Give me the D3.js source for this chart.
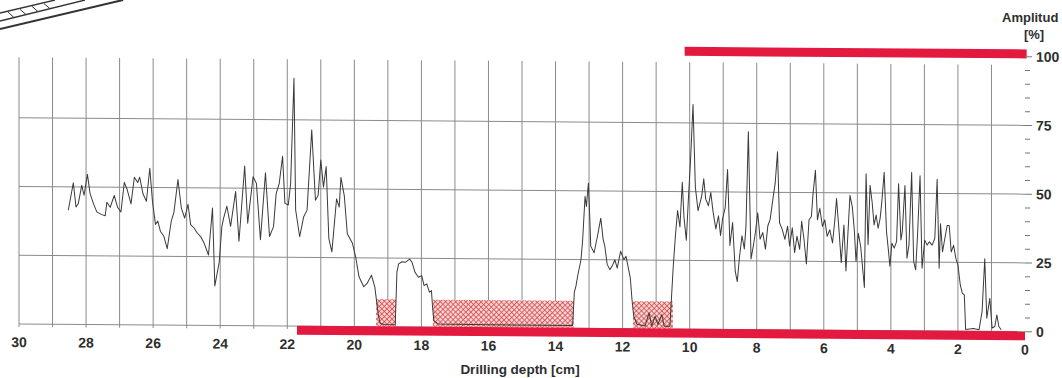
<!DOCTYPE html>
<html>
<head>
<meta charset="utf-8">
<script src="https://cdn.jsdelivr.net/npm/d3@7"></script>
<style>
  body { margin: 0; background: #fff; }
  svg { display: block; font-family: "Liberation Sans", Arial, sans-serif; }
</style>
</head>
<body>
<div id="chart"></div>
<script>
// profile: drilling depth [cm] and amplitude [%]
var depth = [
  28.53,28.38,28.30,28.23,28.13,28.06,27.96,27.88,27.78,27.68,27.53,27.43,27.38,27.28,27.16,27.06,26.96,26.86,26.78,26.66,
  26.56,26.46,26.40,26.30,26.20,26.10,26.02,25.93,25.86,25.78,25.68,25.58,25.46,25.38,25.26,25.16,25.06,24.96,24.88,24.78,
  24.68,24.58,24.48,24.35,24.23,24.16,24.03,23.95,23.90,
  23.80,23.69,23.54,23.44,23.27,23.18,23.02,22.92,22.80,22.65,22.53,22.41,22.33,22.24,22.14,22.07,21.97,21.90,21.80,21.75,
  21.63,21.51,21.41,21.27,21.16,21.08,21.00,20.92,20.84,20.76,20.67,20.53,20.45,20.40,20.30,20.21,20.06,19.96,19.86,19.72,
  19.62,19.49,19.39,19.29,19.23,
  19.10,18.78,18.73,18.68,18.58,18.48,18.35,18.28,18.19,18.09,17.99,17.92,17.84,17.76,17.70,17.67,17.63,17.50,16.00,13.52,
  13.49,13.44,13.39,13.34,13.24,13.19,13.12,13.08,13.02,12.98,12.95,12.85,12.75,12.65,12.58,12.53,12.46,12.38,12.31,12.23,
  12.16,12.06,11.96,11.90,11.84,11.77,11.72,11.67,11.57,11.33,11.21,11.13,11.03,10.95,10.83,10.76,10.59,10.49,10.42,10.36,
  10.29,10.22,10.17,10.10,10.03,9.97,9.90,9.83,9.75,
  9.64,9.58,9.52,9.44,9.37,9.30,9.22,9.14,9.08,9.02,8.94,8.87,8.80,8.72,8.64,8.58,8.52,8.44,8.37,8.32,
  8.25,8.17,8.10,8.04,7.97,7.90,7.82,7.74,7.67,7.60,7.52,7.45,7.38,7.32,7.24,7.16,7.08,7.02,6.94,6.87,
  6.80,6.72,6.66,6.59,6.52,6.44,6.37,6.32,6.25,6.19,6.12,6.04,5.97,5.90,5.82,5.74,5.67,5.62,5.54,5.48,
  5.40,5.34,5.28,5.22,5.15,5.09,5.04,4.97,4.90,
  4.79,4.74,4.68,4.62,4.56,4.50,4.44,4.38,4.32,4.27,4.20,4.13,4.07,4.03,3.97,3.90,3.83,3.77,3.70,3.66,
  3.58,3.52,3.46,3.38,3.32,3.26,3.20,3.13,3.07,2.99,2.92,2.85,2.77,2.69,2.62,2.56,2.52,2.46,2.40,2.32,
  2.26,2.20,2.13,2.06,2.00,1.93,1.87,1.81,1.77,1.54,1.37,1.28,1.20,1.14,1.05,0.98,0.90,0.84,0.78,0.71
];
var amplitude = [
  41.5,51.5,42.7,44,50.6,47,54.6,47.6,44,41,40,39.6,44.5,42.7,47,42.7,41,51.8,49.4,44,
  53.7,51.8,53.7,47.6,45,57,45,36.6,37.8,34,32.3,27.8,37.8,41,53,42.7,39,44,36.6,35.4,
  33.5,32.3,29.9,25.6,42.7,14.4,23,36,39,
  43.4,36.1,48.8,30.7,58.1,37.3,54.2,51.8,31.3,55.7,32.5,36.1,48.2,51.8,61.7,44.6,44,51.8,90.1,42.2,
  32.5,39.8,42.2,71.4,45.8,47.6,60.5,50.6,58.1,31.9,27.1,46.4,43.4,54.2,47.6,33.7,30.4,25.3,18.1,14.5,
  15.7,18.7,14.5,4.8,1.2,
  0.8,0.8,19.9,22.9,23.7,23.5,24.7,23.5,19.9,18.1,18.7,15.1,15.7,12.7,13.3,7.8,2.4,1.2,1.0,1.0,
  1,13,15.4,19,25,32.3,48,44.3,52.8,40.7,29.9,27.5,33.5,40.1,32.3,29.9,23.3,21.4,22.7,25,
  22,28.1,25,26.3,22.7,18.4,10.6,4.6,1.6,1,5.8,1,4.6,1.6,5.2,1,1,22.7,34.7,43.1,
  37.1,53.4,40.7,32.3,49.2,62.4,81.7,51.6,43.1,
  48.5,54.7,47.3,44.9,49.7,42.5,36.5,41.3,34.1,40.1,44.3,58.1,30.5,38.9,21,17.4,25.7,34.1,29.3,37.7,
  71.9,25.7,30.5,35.3,42.5,32.9,35.3,29.3,37.7,40.1,47.3,53.3,64.7,38.9,36.5,32.9,37.7,30.5,37.1,28.1,
  34.1,29.3,39.5,32.9,24,40.1,41.3,49.7,58.1,40.1,44.3,37.7,40.1,34.1,36.5,31.7,40.1,47.9,35.3,24.6,
  38.3,21.6,35.3,49.1,44.9,36.5,25.1,35.3,30.5,
  15.6,57,31.2,52.8,46.8,38.4,42,37.2,40.8,46.8,57.6,36,28.8,23.4,31.8,30,32.4,53.4,33,36,
  52.8,26.4,31.2,57.6,25.2,22.2,36,56.4,22.8,33,31.2,32.4,31.2,33.6,55.2,22.8,39,28.8,33,38.4,
  38.4,28.8,31.2,26.4,24,16.8,13.8,13.2,0.6,1,0.6,7.2,26.4,4.8,12,1.2,1.8,6,1.8,0.6
];

// hatched zones (depth from / to) and their top amplitude
var hatchFrom = [19.35, 17.66, 11.69];
var hatchTo = [18.76, 13.46, 10.50];
var hatchTop = 10;

// red marker bars
var barFrom = [21.71, 10.15];
var barTo = [0, -0.05];
var barLevel = [-1.5, 101];

var depthTicks = [30, 28, 26, 24, 22, 20, 18, 16, 14, 12, 10, 8, 6, 4, 2, 0];
var ampTicks = [0, 25, 50, 75, 100];

var width = 1062, height = 378;
var skew = 0.0076;   // the scan is slightly tilted

var x = d3.scaleLinear().domain([30, 0]).range([19, 1025]);
var y = d3.scaleLinear().domain([0, 100]).range([324, 49]);

var svg = d3.select("#chart")
  .append("svg")
    .attr("width", width)
    .attr("height", height);

var defs = svg.append("defs");
var pat = defs.append("pattern")
    .attr("id", "hatch")
    .attr("patternUnits", "userSpaceOnUse")
    .attr("width", 3.6)
    .attr("height", 3.6)
    .attr("patternTransform", "rotate(45)");
pat.append("rect").attr("width", 3.6).attr("height", 3.6).attr("fill", "#f6d4d4");
pat.append("path")
    .attr("d", "M0,0H3.6M0,0V3.6")
    .attr("stroke", "#d63a3a")
    .attr("stroke-width", 1.4);

// bit of a drawing in the top-left corner
var deco = svg.append("g").attr("stroke", "#333").attr("fill", "none");
deco.append("line").attr("x1", 0).attr("y1", 29).attr("x2", 123).attr("y2", 0).attr("stroke-width", 2);
deco.append("line").attr("x1", 0).attr("y1", 21).attr("x2", 85).attr("y2", 0).attr("stroke-width", 1.3);
deco.append("line").attr("x1", 0).attr("y1", 13).attr("x2", 55).attr("y2", 0).attr("stroke-width", 1.3);
deco.selectAll(".tk")
  .data([8, 20, 32, 44])
  .enter().append("line")
    .attr("x1", function(d) { return d; })
    .attr("y1", function(d) { return 13 - d * 13 / 55 + 1; })
    .attr("x2", function(d) { return d + 6; })
    .attr("y2", function(d) { return 21 - (d + 6) * 21 / 85; })
    .attr("stroke-width", 1);

var g = svg.append("g")
    .attr("transform", "matrix(1," + skew + ",0,1,0," + (-skew * 19) + ")");

// grid
g.selectAll(".hgrid")
  .data([0, 25, 50, 75])
  .enter().append("line")
    .attr("x1", x(30)).attr("x2", x(0))
    .attr("y1", function(d) { return y(d); })
    .attr("y2", function(d) { return y(d); })
    .attr("stroke", "#8a8a8a")
    .attr("stroke-width", 1);

g.selectAll(".vgrid")
  .data(d3.range(1, 31))
  .enter().append("line")
    .attr("x1", function(d) { return x(d); })
    .attr("x2", function(d) { return x(d); })
    .attr("y1", y(0) + 3)
    .attr("y2", y(97))
    .attr("stroke", "#8a8a8a")
    .attr("stroke-width", 1);

// hatched zones
g.selectAll(".hatch")
  .data(hatchFrom)
  .enter().append("rect")
    .attr("x", function(d) { return x(d); })
    .attr("width", function(d, i) { return x(hatchTo[i]) - x(d); })
    .attr("y", y(hatchTop))
    .attr("height", y(0) - y(hatchTop))
    .attr("fill", "url(#hatch)");

// the profile line
var pts = depth.map(function(d, i) { return [d, amplitude[i]]; });
g.append("path")
  .datum(pts)
  .attr("fill", "none")
  .attr("stroke", "#3a3a3a")
  .attr("stroke-width", 1)
  .attr("stroke-linejoin", "round")
  .attr("d", d3.line()
    .x(function(d) { return x(d[0]); })
    .y(function(d) { return y(d[1]); })
  );

// red bars
g.selectAll(".bar")
  .data(barFrom)
  .enter().append("rect")
    .attr("x", function(d) { return x(d); })
    .attr("width", function(d, i) { return x(barTo[i]) - x(d); })
    .attr("y", function(d, i) { return y(barLevel[i]) - 4.5; })
    .attr("height", 9)
    .attr("fill", "#e3193f");

// depth labels
g.selectAll(".xlab")
  .data(depthTicks)
  .enter().append("text")
    .attr("x", function(d) { return x(d); })
    .attr("y", y(0) + 23)
    .attr("text-anchor", "middle")
    .attr("font-size", 14)
    .attr("font-weight", "bold")
    .attr("fill", "#2e2e2e")
    .text(function(d) { return d; });

// amplitude axis on the right
g.selectAll(".ytick")
  .data(d3.range(0, 101, 5))
  .enter().append("line")
    .attr("x1", x(0))
    .attr("x2", function(d) { return d % 25 === 0 ? x(0) + 7 : x(0) + 5; })
    .attr("y1", function(d) { return y(d); })
    .attr("y2", function(d) { return y(d); })
    .attr("stroke", "#777")
    .attr("stroke-width", 1);

g.selectAll(".ylab")
  .data(ampTicks)
  .enter().append("text")
    .attr("x", 1036)
    .attr("y", function(d) { return y(d) + 5; })
    .attr("font-size", 14)
    .attr("font-weight", "bold")
    .attr("fill", "#2e2e2e")
    .text(function(d) { return d; });

// titles
svg.append("text")
    .attr("x", 1002).attr("y", 22)
    .attr("font-size", 13).attr("font-weight", "bold").attr("fill", "#2e2e2e")
    .text("Amplitud");
svg.append("text")
    .attr("x", 1034).attr("y", 39)
    .attr("text-anchor", "middle")
    .attr("font-size", 13).attr("font-weight", "bold").attr("fill", "#2e2e2e")
    .text("[%]");
svg.append("text")
    .attr("x", 520).attr("y", 374)
    .attr("text-anchor", "middle")
    .attr("font-size", 13.5).attr("font-weight", "bold").attr("fill", "#2e2e2e")
    .text("Drilling depth [cm]");
</script>
</body>
</html>
